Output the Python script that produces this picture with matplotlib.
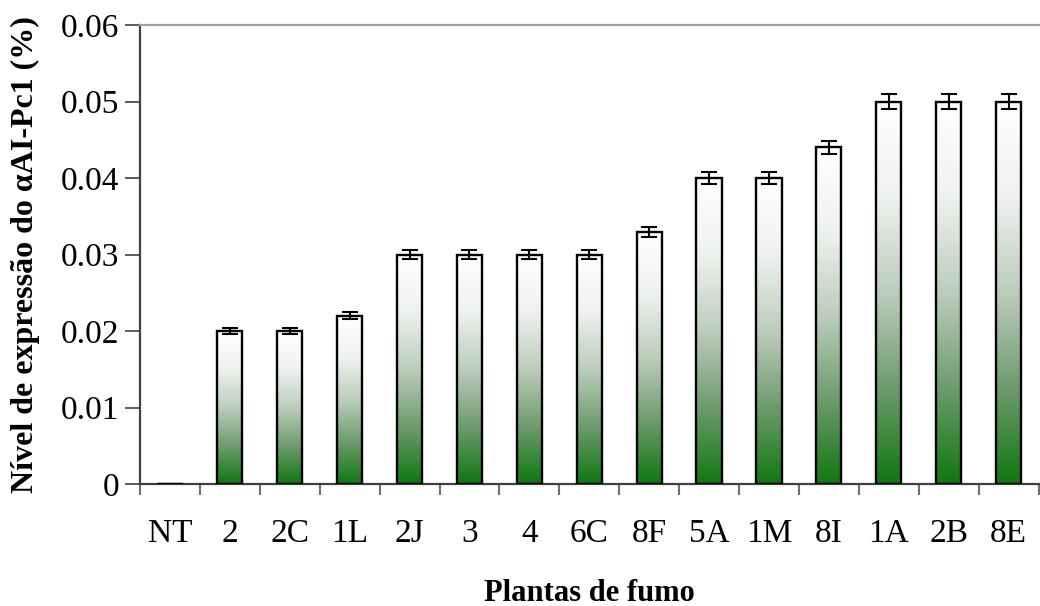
import numpy as np
import matplotlib
matplotlib.use('Agg')
import matplotlib.pyplot as plt
from matplotlib.colors import LinearSegmentedColormap
from matplotlib.ticker import FuncFormatter

plants = ['NT', '2', '2C', '1L', '2J', '3', '4', '6C', '8F', '5A', '1M', '8I', '1A', '2B', '8E']
expression = [0.0, 0.020, 0.020, 0.022, 0.030, 0.030, 0.030, 0.030, 0.033,
              0.040, 0.040, 0.044, 0.050, 0.050, 0.050]
errors = [0.0, 0.0004, 0.0004, 0.00044, 0.0006, 0.0006, 0.0006, 0.0006, 0.00066,
          0.0008, 0.0008, 0.00088, 0.001, 0.001, 0.001]

plt.rcParams['font.family'] = ['Liberation Serif', 'DejaVu Serif']

# white at the top of each bar fading into green at the base
grad = LinearSegmentedColormap.from_list(
    'fumo', [(0.0, '#107810'), (0.25, '#6e9b6e'), (0.5, '#bccdbc'),
             (0.75, '#eef2ee'), (1.0, '#ffffff')])

fig = plt.figure(figsize=(10.4, 6.06), dpi=100)
ax = fig.add_axes([0.1346, 0.2013, 0.864, 0.7574])

x = np.arange(len(plants))
bars = ax.bar(x, expression, width=0.42, facecolor='none', edgecolor='black',
              linewidth=1.7, zorder=3)
ramp = np.linspace(0, 1, 256).reshape(-1, 1)
for b in bars:
    h = b.get_height()
    if h <= 0:
        continue
    x0 = b.get_x()
    im = ax.imshow(ramp, cmap=grad, origin='lower', aspect='auto',
                   extent=[x0, x0 + b.get_width(), 0, h], zorder=2)
    im.set_clip_path(b)

ax.errorbar(x[1:], expression[1:], yerr=errors[1:], fmt='none', ecolor='black',
            elinewidth=1.5, capsize=5.8, capthick=1.5, zorder=4)

ax.set_xlim(-0.5, len(plants) - 0.5)
ax.set_ylim(0, 0.06)
ax.set_yticks(np.arange(0, 0.061, 0.01))
ax.yaxis.set_major_formatter(FuncFormatter(lambda v, p: '0' if abs(v) < 1e-9 else f'{v:.2f}'))
ax.set_xticks(np.arange(-0.5, len(plants), 1.0))
ax.set_xticklabels([])
ax.set_xticks(x, minor=True)
ax.set_xticklabels(plants, minor=True)
ax.tick_params(axis='x', which='major', direction='out', length=8, width=1.5,
               color='#707070')
ax.tick_params(axis='x', which='minor', length=0, labelsize=24, pad=25)
ax.tick_params(axis='y', direction='out', length=11, width=1.2, color='#404040',
               labelsize=24, pad=4)

ax.spines['left'].set_color('#404040')
ax.spines['left'].set_linewidth(1.6)
ax.spines['bottom'].set_color('#404040')
ax.spines['bottom'].set_linewidth(1.6)
ax.spines['top'].set_color('#a0a0a0')
ax.spines['top'].set_linewidth(1.6)
ax.spines['right'].set_visible(False)

ax.set_xlabel('Plantas de fumo', fontsize=22, fontweight='bold')
ax.xaxis.set_label_coords(0.5, -0.207)
ax.set_ylabel('Nível de expressão do αAI-Pc1 (%)', fontsize=23, fontweight='bold')
ax.yaxis.set_label_coords(-0.111, 0.5)

fig.savefig('out.png', dpi=100)
